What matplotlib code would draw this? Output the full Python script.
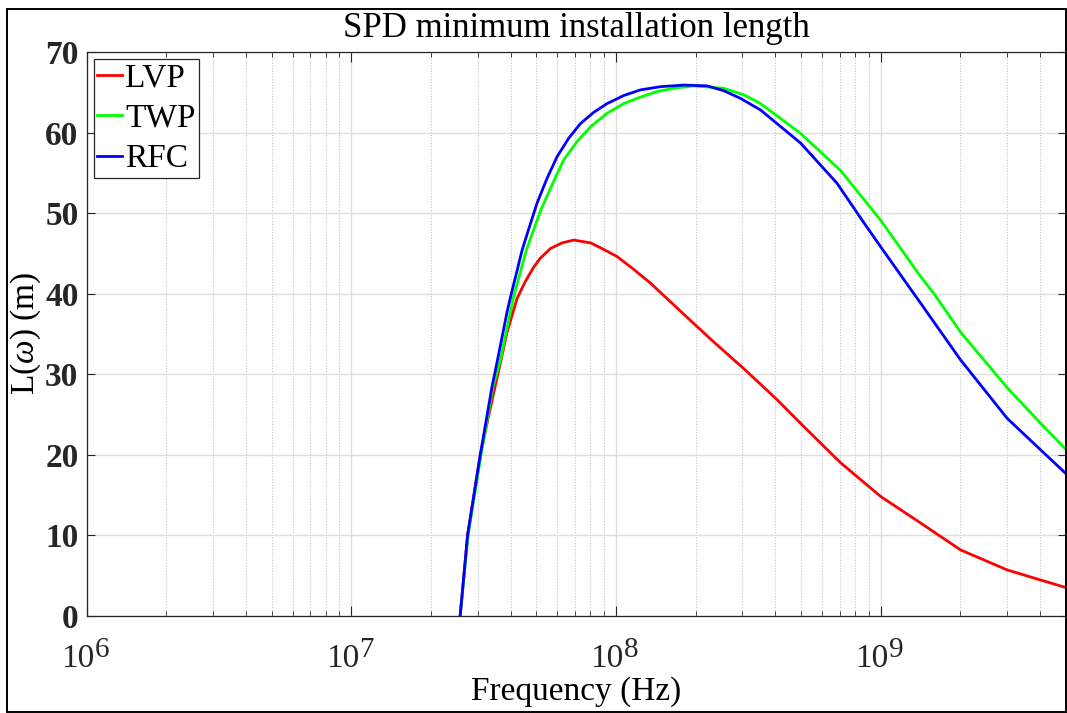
import numpy as np
import matplotlib
matplotlib.use("Agg")
import matplotlib.pyplot as plt
from matplotlib.patches import Rectangle
from matplotlib.ticker import LogLocator, NullFormatter
from matplotlib.transforms import blended_transform_factory, ScaledTranslation

plt.rcParams['font.family'] = ['Liberation Serif', 'DejaVu Serif']
plt.rcParams['mathtext.fontset'] = 'custom'
plt.rcParams['mathtext.rm'] = 'Liberation Serif'
plt.rcParams['mathtext.it'] = 'Liberation Serif:italic'
plt.rcParams['mathtext.bf'] = 'Liberation Serif:bold'

# values: log10(frequency / Hz) and L (m)
logf_lvp = [7.411, 7.439, 7.487, 7.537, 7.563, 7.588, 7.626, 7.657, 7.689, 7.714,
            7.752, 7.796, 7.840, 7.903, 7.941, 8.004, 8.067, 8.130, 8.218, 8.293,
            8.369, 8.444, 8.482, 8.609, 8.709, 8.848, 9.000, 9.151, 9.302, 9.478,
            9.604, 9.701]
L_lvp = [0.0, 10.0, 20.0, 27.6, 31.4, 35.2, 39.4, 41.5, 43.3, 44.4,
         45.6, 46.3, 46.65, 46.3, 45.7, 44.6, 43.0, 41.3, 38.6, 36.3,
         34.0, 31.8, 30.7, 26.8, 23.5, 19.0, 14.8, 11.5, 8.16, 5.68,
         4.43, 3.48]

logf_twp = [7.411, 7.441, 7.490, 7.535, 7.563, 7.600, 7.613, 7.661, 7.676, 7.716,
            7.758, 7.802, 7.853, 7.903, 7.966, 8.029, 8.092, 8.155, 8.218, 8.293,
            8.407, 8.482, 8.546, 8.697, 8.848, 9.000, 9.151, 9.201, 9.302, 9.478,
            9.604, 9.701]
L_twp = [0.0, 10.0, 20.0, 28.4, 31.75, 37.6, 39.6, 45.4, 46.8, 50.4,
         53.5, 56.6, 58.9, 60.7, 62.4, 63.6, 64.4, 65.1, 65.5, 65.8,
         65.5, 64.7, 63.6, 59.9, 55.3, 49.1, 42.1, 40.0, 35.2, 28.3,
         23.9, 20.6]

logf_rfc = [7.411, 7.439, 7.487, 7.531, 7.552, 7.588, 7.600, 7.645, 7.664, 7.701,
            7.739, 7.777, 7.821, 7.865, 7.915, 7.966, 8.029, 8.092, 8.168, 8.256,
            8.344, 8.407, 8.470, 8.546, 8.697, 8.835, 8.930, 9.000, 9.125, 9.151,
            9.302, 9.478, 9.604, 9.701]
L_rfc = [0.0, 10.0, 20.0, 28.4, 31.75, 37.7, 39.4, 45.4, 47.4, 51.2,
         54.3, 57.0, 59.3, 61.1, 62.5, 63.6, 64.6, 65.3, 65.7, 65.9,
         65.8, 65.2, 64.25, 62.8, 58.7, 53.7, 49.1, 45.8, 40.0, 38.8,
         31.75, 24.5, 20.6, 17.6]

decades = [6, 7, 8, 9]

fig = plt.figure(figsize=(10.67, 7.13), dpi=100)
ax = fig.add_axes([0.0813, 0.1365, 0.9175, 0.7905])

ax.plot(10 ** np.array(logf_lvp), L_lvp, color='#ff0000', lw=2.0, label='LVP')
ax.plot(10 ** np.array(logf_twp), L_twp, color='#00ff00', lw=2.0, label='TWP')
ax.plot(10 ** np.array(logf_rfc), L_rfc, color='#0000ff', lw=2.0, label='RFC')

ax.set_xscale('log')
ax.set_xlim(1e6, 5e9)
ax.set_ylim(0, 70)
ax.set_yticks(np.arange(0, 71, 10))
ax.xaxis.set_major_locator(LogLocator(base=10, numticks=10))
ax.xaxis.set_minor_locator(LogLocator(base=10, subs=np.arange(2, 10), numticks=100))
ax.xaxis.set_major_formatter(NullFormatter())
ax.xaxis.set_minor_formatter(NullFormatter())

ax.grid(True, which='major', color='#dedede', lw=1.0, ls='-')
ax.grid(True, which='minor', axis='x', color='#c4c4c4', lw=0.8, ls=(0, (1, 1.5)))
ax.set_axisbelow(True)

ax.tick_params(which='both', direction='in', top=True, right=True, colors='#262626')
ax.tick_params(which='major', axis='x', length=7, width=0.8)
ax.tick_params(which='minor', axis='x', length=3.5, width=0.6)
ax.tick_params(which='major', axis='y', length=6, width=0.8, pad=6, labelsize=24)
for lbl in ax.get_yticklabels():
    lbl.set_fontweight('bold')
for sp in ax.spines.values():
    sp.set_color('#262626')
    sp.set_linewidth(0.9)

# MATLAB-like decade labels: "10" with a large exponent
xt = blended_transform_factory(ax.transData, ax.transAxes)
for d in decades:
    ax.text(10.0 ** d, -0.0905, '10', ha='right', va='baseline', fontsize=24,
            color='#262626',
            transform=xt + ScaledTranslation(0.075, 0, fig.dpi_scale_trans))
    ax.text(10.0 ** d, -0.0905, str(d), ha='left', va='baseline', fontsize=21,
            color='#262626',
            transform=xt + ScaledTranslation(0.08, 0.10, fig.dpi_scale_trans))

ax.set_xlabel('Frequency (Hz)', fontsize=24)
ax.xaxis.set_label_coords(0.5, -0.108)
ax.set_ylabel(r'L($\omega$) (m)', fontsize=24)
ax.yaxis.set_label_coords(-0.045, 0.5)
ax.set_title('SPD minimum installation length', fontsize=25, pad=11)

leg = ax.legend(loc='upper left', fontsize=24, handlelength=0.75, handletextpad=0.08,
                borderpad=0.1, labelspacing=0.3, borderaxespad=0.22,
                fancybox=False, framealpha=1, edgecolor='#262626')
leg.get_frame().set_linewidth(0.9)

fig.patches.append(Rectangle((7 / 1067, 1 - 712 / 713), 1059 / 1067, 703 / 713,
                             transform=fig.transFigure, fill=False, ec='black',
                             lw=1.4, clip_on=False))

fig.savefig('out.png', dpi=100)
